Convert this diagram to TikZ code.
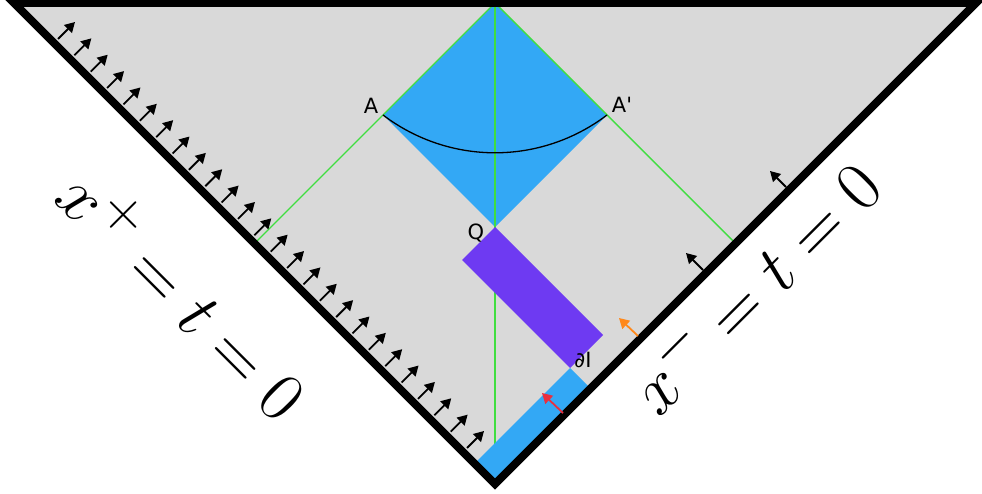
\documentclass[tikz,border=0pt]{standalone}
\usepackage{fontspec}
\newfontfamily\labelfont[Ligatures=TeXOff]{DejaVu Sans}
\usetikzlibrary{arrows.meta}

\definecolor{bggray}{RGB}{217,217,217}
\definecolor{wedgeblue}{RGB}{51,168,245}
\definecolor{barpurple}{RGB}{110,58,242}
\definecolor{raygreen}{RGB}{64,222,64}
\definecolor{kickorange}{RGB}{255,136,26}
\definecolor{kickred}{RGB}{232,48,64}

\begin{document}
\begin{tikzpicture}[x=1pt, y=-1pt,
  edge/.style={line width=8pt, line join=miter},
  ray/.style={raygreen, line width=1.4pt},
  kick/.style={line width=1.8pt, -{Triangle[length=10pt,width=11pt]}},
  lbl/.style={inner sep=0pt, font=\labelfont\fontsize{21}{25}\selectfont},
  axislbl/.style={anchor=base, inner sep=0pt, font=\Huge, scale=2.81},
]
  \useasboundingbox (0,0) rectangle (982,494);
  \coordinate (TL) at (14,3);
  \coordinate (TR) at (976,3);
  \coordinate (B) at (495,484);
  \coordinate (T) at (495,3);
  \coordinate (A) at (383,115);
  \coordinate (Ap) at (607,115);
  \coordinate (Q) at (495,227);
  \coordinate (L) at (255.5,242.5);
  \coordinate (R) at (735.5,243.5);
  \coordinate (P1) at (462,260);
  \coordinate (P2) at (603,335);
  \coordinate (dI) at (570,368);
  \coordinate (S1) at (590,388);
  \coordinate (S2) at (495,483);
  \coordinate (S3) at (475,463);

  \fill[bggray] (TL) -- (TR) -- (B) -- cycle;
  \fill[wedgeblue] (T) -- (A) -- (Q) -- (Ap) -- cycle;
  % light rays from the top corner
  \draw[ray] (T) -- (L);
  \draw[ray] (T) -- (R);
  \draw[ray] (T) -- (B);
  \draw[line width=1.3pt] (A) .. controls (449.5,165.4) and (540.5,165.4) .. (Ap);
  \fill[barpurple] (Q) -- (P1) -- (dI) -- (P2) -- cycle;
  \fill[wedgeblue] (dI) -- (S1) -- (S2) -- (S3) -- cycle;
  \draw[edge] (TL) -- (TR) -- (B) -- cycle;

  \foreach \i in {0,...,25}
    \draw[kick] (58+16.36*\i, 39+16.36*\i) -- ++(17,-17);
  \draw[kick] (786,187) -- ++(-16,-16);
  \draw[kick] (703,270) -- ++(-17,-17);
  \draw[kick, kickorange] (638,336) -- ++(-19,-18);
  \draw[kick, kickred] (563,413) -- ++(-21,-20);

  \node[lbl] (labA)  at (371,106) {A};
  \node[lbl] (labAp) at (622,105) {A'};
  \node[lbl] (labQ)  at (476,233) {Q};
  \node[lbl] (labdI) at (583,360) {∂I};
  \node[axislbl, rotate=-45] (xplus)  at (165,313) {$x^+ = t = 0$};
  \node[axislbl, rotate=45]  (xminus) at (773,305) {$x^- = t = 0$};
\end{tikzpicture}
\end{document}
